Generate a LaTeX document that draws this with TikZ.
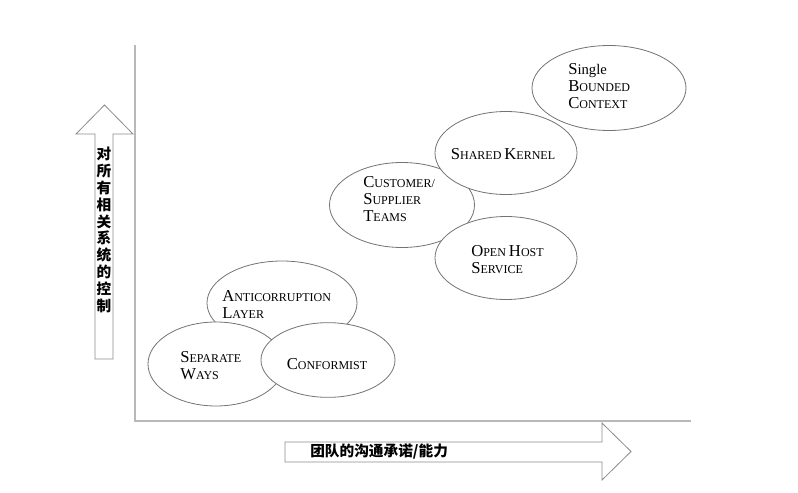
\documentclass[tikz,border=0pt]{standalone}
\usepackage{fontspec}
\setmainfont{Liberation Serif}
\newfontfamily\cjk{Noto Sans CJK SC}
\usetikzlibrary{shapes.geometric}
% fake small caps: big first letter, smaller rest
\newcommand{\fsc}[2]{{\fontsize{12.5}{12.75}\selectfont #1}#2}

\begin{document}
\begin{tikzpicture}[x=0.75pt,y=-0.75pt,
    ctx/.style={ellipse, draw=black!55, line width=0.6pt, fill=white, inner sep=0pt},
    lbl/.style={align=left, inner sep=0pt, font=\fontsize{9}{12.75}\selectfont},
    axisline/.style={draw=black!28, line width=1.1pt},
    bigarrow/.style={draw=black!45, line width=0.6pt, fill=white}]
  \useasboundingbox (0,0) rectangle (798,492);

  % axes
  \coordinate (ytop) at (135,45);
  \coordinate (orig) at (135,421);
  \coordinate (xend) at (691,421);
  \draw[axisline] (ytop) -- (orig) -- (xend);

  % lower group
  \node[ctx, minimum width=112.5pt, minimum height=63pt] (acl) at (282,303) {};
  \node[ctx, minimum width=102pt,   minimum height=63pt] (sep) at (216,364) {};
  \node[ctx, minimum width=100.5pt, minimum height=56pt] (con) at (328,360) {};
  \node[lbl, anchor=west] (acl text) at (222,304) {\fsc{A}{NTICORRUPTION}\\\fsc{L}{AYER}};
  \node[lbl, anchor=west] (sep text) at (180,366) {\fsc{S}{EPARATE}\\\fsc{W}{AYS}};
  \node[lbl] (con text) at (327,364) {\fsc{C}{ONFORMIST}};

  % upper group
  \node[ctx, minimum width=108.75pt, minimum height=63.75pt] (cust) at (402,205) {};
  \node[ctx, minimum width=106.5pt,  minimum height=62.25pt] (shk)  at (506,153) {};
  \node[ctx, minimum width=106.5pt,  minimum height=62.25pt] (ohs)  at (506,258) {};
  \node[ctx, minimum width=115.5pt,  minimum height=63.75pt] (sbc)  at (609,88) {};
  \node[lbl, anchor=west] (cust text) at (363,199) {\fsc{C}{USTOMER/}\\\fsc{S}{UPPLIER}\\\fsc{T}{EAMS}};
  \node[lbl] (shk text) at (503,154) {\fsc{S}{HARED} \fsc{K}{ERNEL}};
  \node[lbl, anchor=west] (ohs text) at (471,260) {\fsc{O}{PEN} \fsc{H}{OST}\\\fsc{S}{ERVICE}};
  \node[lbl, anchor=west] (sbc text) at (568,86) {\fsc{S}{\fontsize{11}{12.75}\selectfont ingle}\\\fsc{B}{OUNDED}\\\fsc{C}{ONTEXT}};

  % block arrows
  \draw[bigarrow] (95,359) -- (113,359) -- (113,134) -- (133,134) -- (104.5,105)
    -- (76,134) -- (95,134) -- cycle;
  \node[align=center, inner sep=0pt, font=\cjk\bfseries\fontsize{11}{12.6}\selectfont] (ctrl) at (104,230)
    {对\\所\\有\\相\\关\\系\\统\\的\\控\\制};
  \draw[bigarrow] (285,442) -- (602,442) -- (602,423) -- (631,451.5) -- (602,480)
    -- (602,462) -- (285,462) -- cycle;
  \node[anchor=west, inner sep=0pt, font=\cjk\bfseries\fontsize{11}{13}\selectfont] (comm) at (310,452)
    {团队的沟通承诺/能力};
\end{tikzpicture}
\end{document}
